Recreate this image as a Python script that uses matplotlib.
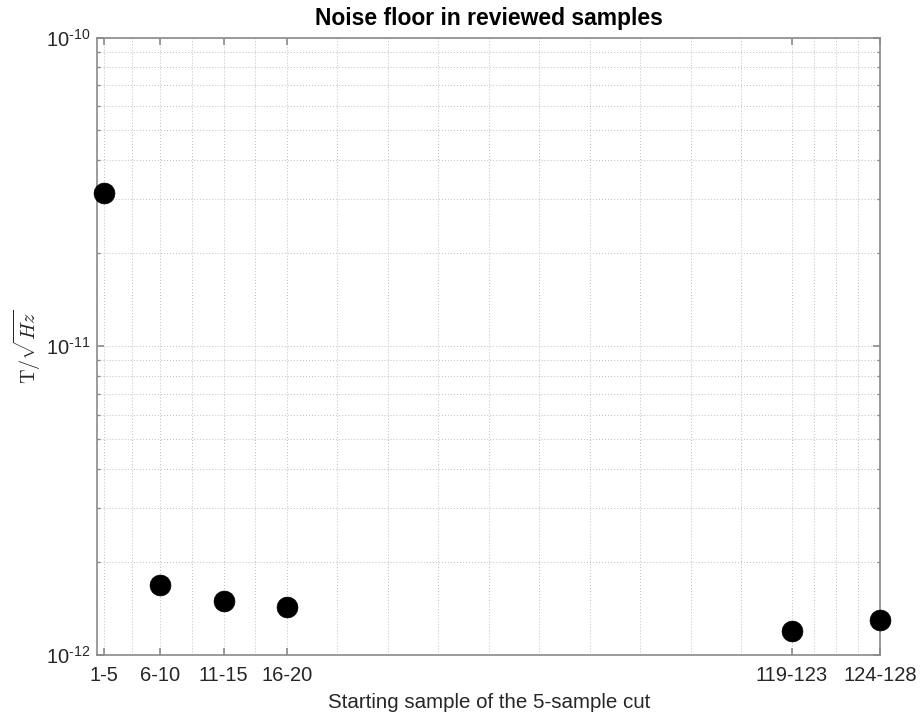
import matplotlib
matplotlib.use("Agg")
import matplotlib.pyplot as plt
import numpy as np
from matplotlib.ticker import FixedLocator, FuncFormatter, NullFormatter

plt.rcParams["font.family"] = ["Liberation Sans", "DejaVu Sans"]
plt.rcParams["mathtext.fontset"] = "custom"
plt.rcParams["mathtext.rm"] = "Liberation Sans"
plt.rcParams["mathtext.it"] = "Liberation Sans:italic"
plt.rcParams["mathtext.bf"] = "Liberation Sans:bold"

# 5-sample cuts and their measured noise floor
cut_labels = ["1-5", "6-10", "11-15", "16-20", "119-123", "124-128"]
cut_pos = [0, 4.5, 9.5, 14.5, 54.5, 61.5]
noise_floor = [3.14e-11, 1.68e-12, 1.50e-12, 1.43e-12, 1.20e-12, 1.30e-12]
minor_divisions = [2, 2, 2, 10, 4]
decades = [-12, -11, -10]

text_color = "#262626"
axis_color = "#8a8a8a"
grid_color = "#c4c4c4"

fig = plt.figure(figsize=(9.21, 7.17), dpi=100)
ax = fig.add_axes([97.3 / 921, 1 - 655 / 717, (880 - 97.3) / 921, (655 - 37.5) / 717])

ax.plot(cut_pos, noise_floor, linestyle="none", marker="o", markersize=15,
        markerfacecolor="black", markeredgecolor="black", markeredgewidth=0.5,
        clip_on=False, zorder=5)

ax.set_yscale("log")
ax.set_ylim(10.0 ** decades[0], 10.0 ** decades[-1])
ax.set_xlim(-0.5, 61.5)

# x ticks at the cut positions, minor grid splitting each gap evenly
ax.set_xticks(cut_pos)
ax.set_xticklabels(cut_labels)
minor_x = []
for a, b, n in zip(cut_pos[:-1], cut_pos[1:], minor_divisions):
    minor_x.extend(np.linspace(a, b, n + 1)[1:-1])
ax.xaxis.set_minor_locator(FixedLocator(minor_x))
ax.xaxis.set_minor_formatter(NullFormatter())

# decade ticks on y, with 2..9 minor ticks in between
ax.yaxis.set_major_locator(FixedLocator([10.0 ** d for d in decades]))
ax.yaxis.set_major_formatter(FuncFormatter(
    lambda v, p: r"$\mathdefault{10^{\text{-%d}}}$" % abs(int(round(np.log10(v))))))
minor_y = [m * 10.0 ** d for d in decades[:-1] for m in range(2, 10)]
ax.yaxis.set_minor_locator(FixedLocator(minor_y))
ax.yaxis.set_minor_formatter(NullFormatter())

ax.grid(True, which="both", color=grid_color, linestyle=(0, (1, 1.9)), linewidth=0.75)
ax.set_axisbelow(True)

for s in ax.spines.values():
    s.set_color(axis_color)
    s.set_linewidth(1.2)

ax.tick_params(axis="both", which="both", direction="in", colors=axis_color,
               labelcolor=text_color, labelsize=14.5, top=True, right=True)
ax.tick_params(axis="x", which="major", length=5, width=1.2, pad=8)
ax.tick_params(axis="x", which="minor", length=0)
ax.tick_params(axis="y", which="major", length=5, width=1.2, pad=5)
ax.tick_params(axis="y", which="minor", length=2.5, width=1.0)

ax.set_xlabel("Starting sample of the 5-sample cut", fontsize=14.8, color=text_color, labelpad=6)
ax.set_ylabel(r"$\mathrm{T}/\sqrt{Hz}$", fontsize=14.5, color=text_color,
              math_fontfamily="cm", labelpad=2)
ax.set_title("Noise floor in reviewed samples", fontsize=16.5, fontweight="bold",
             color="black", pad=9)

fig.savefig("out.png", dpi=100)
